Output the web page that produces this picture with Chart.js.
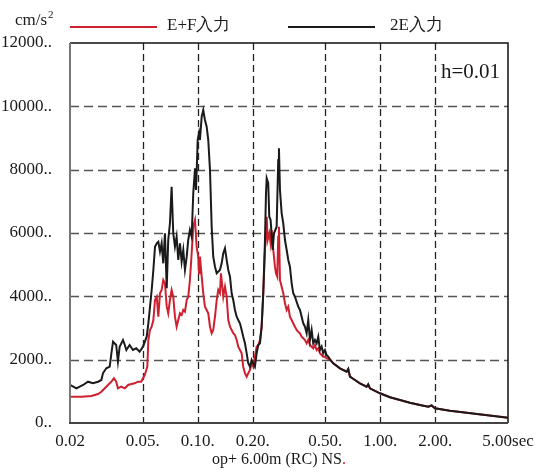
<!DOCTYPE html>
<html><head><meta charset="utf-8">
<script src="https://cdn.jsdelivr.net/npm/chart.js@4.4.0/dist/chart.umd.min.js"></script>
<style>html,body{margin:0;padding:0;background:#fff;}</style>
</head><body>
<canvas id="c" width="559" height="474"></canvas>
<script>
const seriesNames = ['E+F入力', '2E入力'];
const periods2E = [0.0200,0.0217,0.0226,0.0236,0.0251,0.0267,0.0285,0.0297,0.0303,0.0316,0.0330,0.0337,0.0344,0.0358,0.0366,0.0374,0.0390,0.0399,0.0407,0.0424,0.0442,0.0461,0.0481,0.0502,0.0526,0.0537,0.0560,0.0572,0.0584,0.0597,0.0609,0.0622,0.0635,0.0648,0.0662,0.0677,0.0690,0.0705,0.0720,0.0735,0.0751,0.0767,0.0783,0.0800,0.0817,0.0834,0.0852,0.0871,0.0888,0.0907,0.0927,0.0946,0.0967,0.0979,0.0987,0.1000,0.1017,0.1029,0.1052,0.1073,0.1096,0.1120,0.1143,0.1168,0.1193,0.1217,0.1244,0.1271,0.1324,0.1353,0.1381,0.1411,0.1441,0.1471,0.1503,0.1535,0.1566,0.1600,0.1635,0.1668,0.1704,0.1741,0.1776,0.1815,0.1855,0.1892,0.1933,0.1975,0.2015,0.2058,0.2103,0.2147,0.2193,0.2240,0.2286,0.2336,0.2366,0.2387,0.2434,0.2466,0.2508,0.2574,0.2617,0.2706,0.2761,0.2786,0.2822,0.2883,0.2942,0.3006,0.3071,0.3133,0.3200,0.3270,0.3336,0.3408,0.3553,0.3631,0.3785,0.3867,0.3951,0.4031,0.4118,0.4207,0.4293,0.4386,0.4481,0.4573,0.4671,0.4773,0.4869,0.4975,0.5082,0.5186];
const values2E = [1200,1096,1146,1200,1304,1254,1304,1358,1570,1727,1778,2201,2567,2463,1936,2410,2621,2463,2305,2463,2305,2359,2252,2410,2725,3149,4200,4832,5568,5675,5725,5410,5675,5043,5991,4254,5779,6307,7462,5991,5568,5883,5148,5675,5094,5463,4832,5252,5779,6095,5883,7254,8043,7358,7885,8937,9158,8937,9673,9885,9569,9357,8937,7990,6199,5252,4936,4728,4832,5043,5359,5517,5148,4832,4620,4096,3884,3569,3357,3253,3149,2937,2725,2517,2201,1885,1778,1990,1885,1778,2201,2463,2517,3041,4096,5779,7254,7728,7570,6515,6411,5463,5991,6199,8306,8675,7358,6622,6307,5779,5463,5148,4936,4412,4096,3989,3673,3569,3149,3041,2833,3253,2621,2937,2517,2621,2517,2725,2305,2410,2201,2305,2147,2094];
const periodsEF = [0.0200,0.0231,0.0262,0.0285,0.0297,0.0310,0.0323,0.0337,0.0348,0.0358,0.0366,0.0382,0.0399,0.0416,0.0433,0.0452,0.0471,0.0491,0.0502,0.0513,0.0530,0.0537,0.0548,0.0560,0.0572,0.0584,0.0597,0.0609,0.0622,0.0635,0.0648,0.0662,0.0677,0.0690,0.0705,0.0720,0.0735,0.0751,0.0767,0.0783,0.0800,0.0817,0.0834,0.0852,0.0871,0.0888,0.0907,0.0927,0.0946,0.0967,0.0987,0.1007,0.1017,0.1029,0.1052,0.1073,0.1096,0.1120,0.1143,0.1168,0.1193,0.1217,0.1244,0.1271,0.1296,0.1324,0.1341,0.1353,0.1381,0.1411,0.1441,0.1471,0.1503,0.1535,0.1566,0.1600,0.1635,0.1668,0.1704,0.1741,0.1776,0.1815,0.1855,0.1892,0.1933,0.1975,0.2015,0.2058,0.2103,0.2147,0.2193,0.2240,0.2286,0.2336,0.2387,0.2416,0.2466,0.2508,0.2542,0.2594,0.2650,0.2683,0.2727,0.2761,0.2786,0.2822,0.2883,0.2942,0.3006,0.3071,0.3133,0.3200,0.3270,0.3336,0.3408,0.3482,0.3553,0.3631,0.3708,0.3785,0.3867,0.3951,0.4031,0.4118,0.4207,0.4293,0.4386,0.4481,0.4573,0.4671,0.4773,0.4869,0.4975,0.5082];
const valuesEF = [831,831,853,916,988,1096,1200,1304,1412,1304,1096,1146,1096,1200,1232,1254,1304,1304,1412,1516,1778,2621,2937,3041,3253,3884,3989,3357,4096,4200,4516,4412,3673,3464,3884,4200,3989,3357,3041,3253,3464,3411,3569,3515,3884,3989,4516,5359,6199,6411,5568,5252,4728,5252,4620,4096,3673,3569,3464,3041,2833,2937,3357,3884,4200,4096,4728,4516,3989,4305,3989,3253,3041,2937,2833,2779,2621,2410,2305,2201,1778,1570,1462,1570,1674,1885,1778,2094,2410,2463,2621,3041,4096,5463,6515,5779,5991,5675,6095,5463,4936,4728,4620,5883,6199,4516,4305,4096,3780,3569,3673,3357,3253,3149,3041,2937,2883,2833,2725,2675,2621,2517,2621,2463,2410,2359,2463,2305,2359,2201,2147,2094,2094,2043];
const tailPeriods = [0.5298,0.5523,0.6012,0.6540,0.6674,0.6818,0.7260,0.7734,0.8414,0.8586,0.8770,0.9952,1.1286,1.2803,1.4521,1.6472,1.8288,1.9090,1.9898,2.404,2.968,3.658,4.514,5.000];
const tailValues = [2012,1885,1727,1620,1705,1462,1358,1254,1146,1222,1096,938,812,726,641,568,515,553,464,388,325,262,199,167];
const xTicks = [0.02,0.05,0.1,0.2,0.5,1,2,5];
const xTickLabels = ['0.02','0.05.','0.10.','0.20.','0.50.','1.00.','2.00.','5.00sec'];
const yTicks = [0,2000,4000,6000,8000,10000,12000];
const xGridValues = [0.05,0.1,0.2,0.5,1,2];
const yGridValues = [2000,4000,6000,8000,10000];

function pts(px, vy) {
  const out = px.map((p, i) => ({x: p, y: vy[i]}));
  tailPeriods.forEach((p, i) => out.push({x: p, y: tailValues[i]}));
  return out;
}
const RED = '#cf2030', BLACK = '#1a1a1a';
const SERIF = '"Liberation Serif","Times New Roman",serif';

const decor = {
  id: 'decor',
  beforeDatasetsDraw(chart) {
    const {ctx, chartArea: a, scales: {x, y}} = chart;
    ctx.save();
    ctx.strokeStyle = '#555'; ctx.lineWidth = 1.6; ctx.setLineDash([9, 5]);
    yGridValues.forEach(v => {
      const py = Math.round(y.getPixelForValue(v)) + 0.5;
      ctx.beginPath(); ctx.moveTo(a.left, py); ctx.lineTo(a.right, py); ctx.stroke();
    });
    ctx.strokeStyle = '#222'; ctx.lineWidth = 1.3; ctx.setLineDash([7, 4]);
    xGridValues.forEach(v => {
      const px = Math.round(x.getPixelForValue(v)) + 0.5;
      ctx.beginPath(); ctx.moveTo(px, a.top); ctx.lineTo(px, a.bottom); ctx.stroke();
    });
    ctx.setLineDash([]);
    ctx.strokeStyle = '#111'; ctx.lineWidth = 1.5;
    ctx.beginPath(); ctx.moveTo(a.left, a.top); ctx.lineTo(a.right, a.top); ctx.lineTo(a.right, a.bottom); ctx.stroke();
    ctx.restore();
  },
  afterDatasetsDraw(chart) {
    const {ctx, chartArea: a} = chart;
    ctx.save();
    ctx.lineWidth = 2;
    ctx.strokeStyle = '#777';
    ctx.beginPath(); ctx.moveTo(a.left, a.top); ctx.lineTo(a.left, a.bottom); ctx.stroke();
    ctx.strokeStyle = '#444';
    ctx.beginPath(); ctx.moveTo(a.left - 1, a.bottom); ctx.lineTo(a.right, a.bottom); ctx.stroke();
    ctx.restore();
  },
  afterDraw(chart) {
    const {ctx} = chart;
    ctx.save();
    ctx.fillStyle = '#1a1a1a';
    ctx.textBaseline = 'alphabetic';
    ctx.font = '17px ' + SERIF;
    ctx.textAlign = 'left';
    ctx.fillText('cm/s', 15, 25);
    const w = ctx.measureText('cm/s').width;
    ctx.font = '11px ' + SERIF;
    ctx.fillText('2', 15 + w + 1, 18);
    ctx.lineWidth = 2;
    ctx.strokeStyle = RED;
    ctx.beginPath(); ctx.moveTo(70, 27); ctx.lineTo(157, 27); ctx.stroke();
    ctx.strokeStyle = BLACK;
    ctx.beginPath(); ctx.moveTo(288, 27); ctx.lineTo(375, 27); ctx.stroke();
    ctx.font = '17px ' + SERIF;
    ctx.textBaseline = 'middle';
    ctx.fillText(seriesNames[0], 167, 26);
    ctx.fillText(seriesNames[1], 390, 26);
    ctx.font = '21px ' + SERIF;
    ctx.fillText('h=0.01', 441, 72);
    ctx.font = '16px ' + SERIF;
    ctx.textBaseline = 'alphabetic';
    const t = 'op+ 6.00m (RC) NS';
    ctx.fillText(t, 212, 464);
    ctx.fillStyle = RED;
    ctx.fillText('.', 212 + ctx.measureText(t).width, 464);
    ctx.restore();
  }
};

new Chart(document.getElementById('c'), {
  type: 'line',
  data: {
    datasets: [
      {label: seriesNames[0], data: pts(periodsEF, valuesEF), borderColor: RED, borderWidth: 2, pointRadius: 0, tension: 0, order: 1},
      {label: seriesNames[1], data: pts(periods2E, values2E), borderColor: BLACK, borderWidth: 2, pointRadius: 0, tension: 0, order: 0}
    ]
  },
  options: {
    responsive: false,
    animation: false,
    devicePixelRatio: 1,
    layout: {padding: {top: 43, right: 51, left: 0, bottom: 0}},
    plugins: {legend: {display: false}, tooltip: {enabled: false}},
    scales: {
      x: {
        type: 'logarithmic', min: 0.02, max: 5,
        afterBuildTicks: s => { s.ticks = xTicks.map(v => ({value: v})); },
        afterFit: s => { s.height = 51; },
        grid: {display: false}, border: {display: false},
        ticks: {
          autoSkip: false, maxRotation: 0, padding: 0, color: '#1a1a1a',
          font: {family: SERIF, size: 17},
          callback: (v, i) => xTickLabels[xTicks.indexOf(v)] ?? xTickLabels[i]
        }
      },
      y: {
        min: 0, max: 12000,
        afterBuildTicks: s => { s.ticks = yTicks.map(v => ({value: v})); },
        afterFit: s => { s.width = 70; },
        grid: {display: false}, border: {display: false},
        ticks: {
          padding: 10, color: '#1a1a1a',
          font: {family: SERIF, size: 17},
          callback: v => v + '..'
        }
      }
    }
  },
  plugins: [decor]
});
</script>
</body></html>
